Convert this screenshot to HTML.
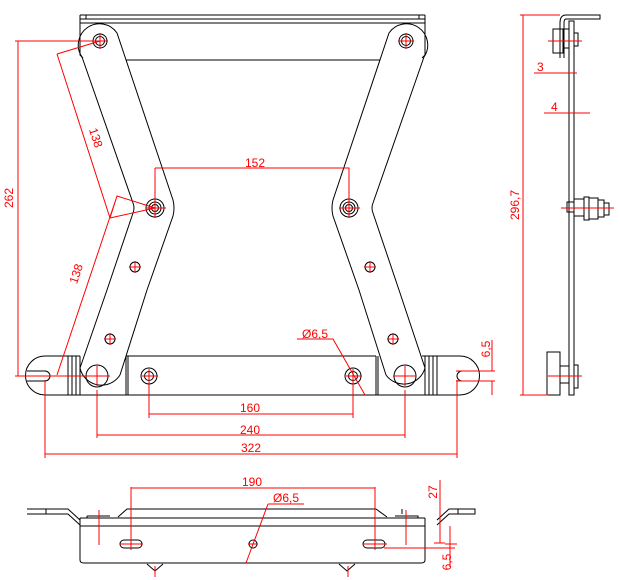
<!DOCTYPE html>
<html><head><meta charset="utf-8"><style>
html,body{margin:0;padding:0;background:#fff}
svg{display:block}
text{font-family:"Liberation Sans",sans-serif;font-size:12px;fill:#f00}
.k{stroke:#000;fill:none;stroke-width:1}
.r{stroke:#f00;fill:none;stroke-width:1}
</style></head><body>
<svg width="620" height="580" viewBox="0 0 620 580" xmlns="http://www.w3.org/2000/svg">
<g class="k">
<path d="M80 15H425M80 19H425M80 23H425M80 15V55L83 58M425 15V55L422 58M86 15V19M419 15V19"/>
<path d="M126 60H380"/>
<path d="M82 57 L133 203 Q135 208 133 213 L107 290 L80 368"/>
<path d="M82 57 A19 19 0 1 1 117 33 L173 200 Q175 208 173 216 L147 290 L120 375"/>
<path d="M424 57 L373 203 Q371 208 373 213 L399 290 L425 368"/>
<path d="M424 57 A19 19 0 1 0 389 33 L333 200 Q331 208 333 216 L359 290 L386 375"/>
<circle cx="100" cy="41" r="7"/><circle cx="100" cy="41" r="4.5"/>
<circle cx="406" cy="41" r="7"/><circle cx="406" cy="41" r="4.5"/>
<circle cx="155" cy="208" r="9"/><circle cx="155" cy="208" r="6"/><circle cx="155" cy="208" r="3.5"/>
<circle cx="349" cy="208" r="9"/><circle cx="349" cy="208" r="6"/><circle cx="349" cy="208" r="3.5"/>
<circle cx="135" cy="267" r="5"/><circle cx="110" cy="339" r="5"/>
<circle cx="370" cy="267" r="5"/><circle cx="393" cy="339" r="5"/>
<path d="M45 356H80M126 356H376M422 356H460M45 395H460"/>
<path d="M45 356A19.5 19.5 0 0 0 45 395M460 356A19.5 19.5 0 0 1 460 395"/>
<path d="M27 371H45A5 5 0 0 1 45 381H27"/>
<path d="M480 371H462A5 5 0 0 0 462 381H480"/>
<path d="M68 356V395M72 356V395M76 356V395M80 356V395M126 356V395M128 356V395M376 356V395M378 356V395M425 356V395M429 356V395M433 356V395M437 356V395"/>
<circle cx="97" cy="376" r="11"/><circle cx="405" cy="376" r="11"/>
<path d="M80 368 A22 22 0 0 0 120 375"/><path d="M386 375 A22 22 0 0 0 425 368"/>
<circle cx="149" cy="376" r="8"/><circle cx="149" cy="376" r="4.5"/>
<circle cx="353" cy="376" r="8"/><circle cx="353" cy="376" r="4.5"/>
</g>
<g class="r">
<path d="M92 41H108M100 33V49M398 41H414M406 33V49M146 208H166M155 199V218M339 208H360M349 199V218"/>
<path d="M129 267H141M135 261V273M104 339H116M110 333V345M364 267H376M370 261V273M387 339H399M393 333V345"/>
<path d="M86 376H110M97 366V386M393 376H416M405 366V386M142 376H158M149 369V383M346 376H362M353 369V383"/>
<path d="M15 41H100M15 376H97M18 41V376"/>
<path d="M57 54L100 41M57 54L110 218M110 218L155 208M110 218L117 196L155 208M117 196L57 375M155 168V208M155 168H349V208"/>
<path d="M149 376V418M353 376V418M149 414H353M97 390V438M405 390V438M97 435H405M45 380V458M457 380V458M45 454H457"/>
<path d="M297 339H333L365 395"/>
<path d="M456 371H495M456 381H495M492 340V371M492 381V395"/>
</g>
<text x="13" y="198" transform="rotate(-90 13 198)" text-anchor="middle">262</text>
<text x="92" y="139" transform="rotate(72 92 139)" text-anchor="middle">138</text>
<text x="80" y="275" transform="rotate(-72 80 275)" text-anchor="middle">138</text>
<text x="255" y="167" text-anchor="middle">152</text>
<text x="250" y="412" text-anchor="middle">160</text>
<text x="250" y="434" text-anchor="middle">240</text>
<text x="251" y="452" text-anchor="middle">322</text>
<text x="302" y="338">Ø6,5</text>
<text x="490" y="349" transform="rotate(-90 490 349)" text-anchor="middle">6,5</text>
<g class="k">
<path d="M27 509H68L80 520M27 514H68L80 525M46 509V514M402 509V514"/>
<path d="M437 520L449 509H475V514H449L437 525M458 509V514"/>
<path d="M118 517L127 509H376L387 517M80 518H425M80 526H425"/>
<path d="M80 518V560Q80 563 84 563H421Q425 563 425 560V518"/>
<path d="M87 516V518M110 516H87M395 516H418V518"/>
<path d="M124 540H138A4 4 0 0 1 138 548H124A4 4 0 0 1 124 540Z"/>
<path d="M367 540H381A4 4 0 0 1 381 548H367A4 4 0 0 1 367 540Z"/>
<circle cx="253" cy="544" r="4"/>
<path d="M147 564L155 571L163 564M339 564L347 571L355 564"/>
</g>
<g class="r">
<path d="M131 487V550M375 487V550M131 488H375M99 510V545M406 510V545M155 566V577M348 566V577"/>
<path d="M268 504H304M268 504L246 563M440 480V543M434 543H445M384 548H455M450 526V567M445 544H457"/>
<path d="M120 544H143M363 544H387M248 544H258"/>
</g>
<text x="252" y="486" text-anchor="middle">190</text>
<text x="273" y="502">Ø6,5</text>
<text x="437" y="492" transform="rotate(-90 437 492)" text-anchor="middle">27</text>
<text x="451" y="562" transform="rotate(-90 451 562)" text-anchor="middle">6,5</text>
<g class="k">
<path d="M569 21H574V395H569Z"/>
<path d="M560 23Q560 15 566 15H600V19H566Q564 19 564 23V58M560 23V58"/>
<path d="M553 29H563V53H553ZM563 29H569V48H563ZM574 33H578V46H574Z"/>
<path d="M567 202H574V212H567ZM574 199H584V216H574ZM584 197H589V220H584ZM589 198H598V219H589ZM598 200H604V217H598ZM604 203H609V215H604Z"/>
<path d="M547 352H560V395H547ZM560 366H569V383H560ZM574 365H578V388H574Z"/>
</g>
<g class="r">
<path d="M520 15H560M520 395H548M523 15V395M534 73H577M544 113H590M548 41H582M561 208H614M548 376H582"/>
</g>
<text x="519" y="205" transform="rotate(-90 519 205)" text-anchor="middle">296,7</text>
<text x="537" y="71">3</text>
<text x="551" y="111">4</text>
</svg>
</body></html>
